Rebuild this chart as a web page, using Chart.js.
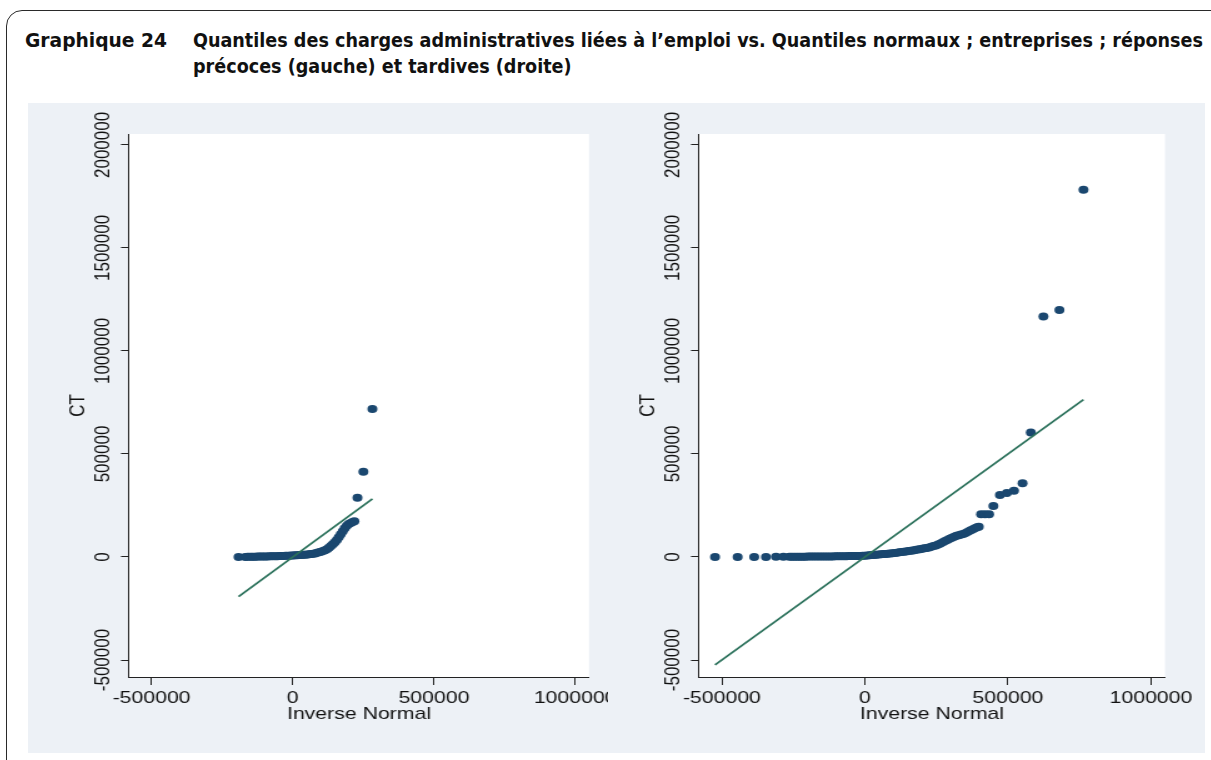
<!DOCTYPE html>
<html>
<head>
<meta charset="utf-8">
<script src="https://cdn.jsdelivr.net/npm/chart.js@4/dist/chart.umd.min.js"></script>
<style>
  html, body { margin: 0; padding: 0; background: #ffffff; width: 1211px; height: 760px; overflow: hidden; }
  #frame { position: absolute; left: 6px; top: 10px; width: 1300px; height: 900px;
           border: 1.5px solid #2a2a2a; border-radius: 16px; }
  .title { position: absolute; font-family: "DejaVu Sans Condensed", "DejaVu Sans", sans-serif;
           font-stretch: condensed; font-weight: bold; font-size: 19px; line-height: 22px;
           color: #111111; white-space: nowrap; transform-origin: 0 50%; }
  #panel { position: absolute; left: 28px; top: 103px; width: 1177px; height: 650px; background: #edf1f6; }
  canvas { position: absolute; transform-origin: 0 0; }
</style>
</head>
<body>
<div id="frame"></div>
<div id="t1" class="title" style="left:25px;top:29px">Graphique 24</div>
<div id="t2" class="title" style="left:193px;top:29px">Quantiles des charges administratives liées à l’emploi vs. Quantiles normaux ; entreprises ; réponses</div>
<div id="t3" class="title" style="left:193px;top:55px">précoces (gauche) et tardives (droite)</div>
<div id="panel"></div>
<canvas id="early" width="464" height="650"></canvas>
<canvas id="late" width="478" height="650"></canvas>
<script>
// Axis ticks shared by both panels
const xTicks = [-500000, 0, 500000, 1000000];
const yTicks = [-500000, 0, 500000, 1000000, 1500000, 2000000];

// Early responses (left): inverse-normal quantile vs. CT
const earlyX = [-192000, -168000, -160000, -152000, -145000, -138000, -131000, -124000, -117000, -110000,
  -103000, -96000, -89000, -82000, -75000, -68000, -61000, -54000, -47000, -40000,
  -33000, -26000, -19000, -12000, -5000, 2000, 9000, 16000, 23000, 30000,
  37000, 44000, 51000, 58000, 65000, 72000, 79000, 86000, 93000, 100000,
  107000, 114000, 121000, 128000, 135000, 142000, 149000, 156000, 163000, 170000,
  177000, 184000, 191000, 198000, 205000, 212000, 218000, 229000, 250000, 282000];
const earlyY = [0, 500, 800, 1000, 1200, 1400, 1600, 1800, 2000, 2200,
  2400, 2600, 2800, 3000, 3200, 3500, 3800, 4100, 4400, 4800,
  5200, 5600, 6000, 6500, 7000, 7500, 8000, 8600, 9200, 9800,
  10500, 11200, 12000, 13000, 14000, 15500, 17500, 20000, 23000, 26000,
  29000, 33000, 38000, 45000, 53000, 62000, 72000, 83000, 96000, 110000,
  125000, 140000, 152000, 160000, 165000, 170000, 174000, 287000, 414000, 718000];
const earlyLine = [-192000, 282000];

// Late responses (right)
const lateX = [-524000, -445000, -387000, -346000, -311000, -285000, -264000,
  -256000, -248000, -240000, -232000, -224000, -216000, -208000, -200000, -192000, -184000,
  -176000, -168000, -160000, -152000, -144000, -136000, -128000, -120000, -112000, -104000,
  -96000, -88000, -80000, -72000, -64000, -56000, -48000, -40000, -32000, -24000,
  -16000, -8000, 0, 8000, 16000, 24000, 32000, 40000, 48000, 56000,
  64000, 72000, 80000, 88000, 96000, 104000, 112000, 120000, 128000, 136000,
  144000, 152000, 160000, 168000, 176000, 184000, 192000, 200000, 208000, 216000,
  224000, 232000, 240000, 248000, 256000, 264000, 272000, 280000, 288000, 296000,
  304000, 312000, 320000, 328000, 336000, 344000, 352000, 360000, 368000, 376000,
  384000, 392000, 398000, 406000, 420000, 434000, 449000, 472000, 496000, 521000,
  551000, 580000, 624000, 680000, 764000];
const lateY = [0, 0, 500, 500, 700, 900, 1000,
  1100, 1200, 1300, 1400, 1500, 1600, 1700, 1800, 1900, 2000,
  2100, 2200, 2300, 2400, 2500, 2600, 2700, 2800, 2900, 3000,
  3200, 3400, 3600, 3800, 4000, 4200, 4400, 4600, 4800, 5000,
  5300, 5800, 6500, 7300, 8200, 9100, 10000, 11000, 12000, 13000,
  14000, 15000, 16000, 17200, 18400, 19600, 21000, 22500, 24000, 25500,
  27000, 28500, 30000, 32000, 34000, 36000, 38000, 40000, 42000, 44000,
  46500, 49500, 53000, 56000, 60000, 66000, 72000, 77000, 83000, 88000,
  93000, 98000, 103000, 106000, 109000, 112000, 116000, 122000, 128000, 134000,
  139000, 144000, 147000, 207000, 208000, 208000, 248000, 301000, 310000, 322000,
  358000, 604000, 1167000, 1199000, 1782000];
const lateLine = [-524000, 764000];

const S = 1.25;                // horizontal stretch of the rendered panels
const MARKER = '#1a476f';
const REFLINE = '#2b715b';
const INK = '#111111';
const FONT = '"Liberation Sans", Arial, sans-serif';

// White plot region, rotated y tick labels and the "CT" axis title
const plotDecor = {
  id: 'plotDecor',
  beforeDraw(chart) {
    const { ctx, chartArea: a } = chart;
    ctx.save();
    ctx.fillStyle = '#ffffff';
    ctx.fillRect(a.left, a.top, a.right - a.left, a.bottom - a.top);
    ctx.restore();
  },
  afterDraw(chart) {
    const { ctx, chartArea: a, scales } = chart;
    const y = scales.y;
    ctx.save();
    ctx.fillStyle = INK;
    ctx.font = '17px ' + FONT;
    ctx.textAlign = 'center';
    ctx.textBaseline = 'middle';
    for (const t of y.ticks) {
      ctx.save();
      ctx.translate(a.left - 25.5 / S, y.getPixelForValue(t.value));
      ctx.rotate(-Math.PI / 2);
      ctx.fillText(String(t.value), 0, 0);
      ctx.restore();
    }
    ctx.translate(a.left - 51 / S, (a.top + a.bottom) / 2);
    ctx.rotate(-Math.PI / 2);
    ctx.fillText('CT', 0, 0);
    ctx.restore();
  }
};

function makePanel(id, xs, ys, line, yAxisWidth, padRight, left) {
  const canvas = document.getElementById(id);
  canvas.style.left = left + 'px';
  canvas.style.top = '103px';
  const points = xs.map((x, i) => ({ x: x, y: ys[i] }));
  const ref = line.map(v => ({ x: v, y: v }));
  const chart = new Chart(canvas, {
    type: 'scatter',
    data: {
      datasets: [
        { type: 'line', data: ref, borderColor: REFLINE, borderWidth: 1.7, pointRadius: 0,
          fill: false, tension: 0, order: 0 },
        { data: points, backgroundColor: MARKER, borderWidth: 0, pointRadius: 4,
          pointHoverRadius: 4, order: 1 }
      ]
    },
    options: {
      responsive: false,
      maintainAspectRatio: false,
      devicePixelRatio: 1,
      animation: false,
      events: [],
      layout: { padding: { left: 0, top: 31, right: padRight, bottom: 0 } },
      plugins: { legend: { display: false }, tooltip: { enabled: false }, title: { display: false } },
      scales: {
        x: {
          type: 'linear', position: 'bottom',
          min: -580000, max: 1049000,
          afterBuildTicks: s => { s.ticks = xTicks.map(v => ({ value: v })); },
          afterFit: s => { s.height = 76; s.paddingLeft = 0; s.paddingRight = 0; },
          ticks: { autoSkip: false, maxRotation: 0, minRotation: 0, padding: 3, color: INK,
                   font: { family: FONT, size: 17 }, callback: v => String(v) },
          grid: { display: true, drawOnChartArea: false, drawTicks: true, tickLength: 8,
                  color: '#222222', lineWidth: 1 },
          border: { display: true, color: '#222222', width: 1 },
          title: { display: true, text: 'Inverse Normal', color: INK,
                   font: { family: FONT, size: 17, lineHeight: 1.2 }, padding: { top: 0, bottom: 28.8 } }
        },
        y: {
          type: 'linear', position: 'left',
          min: -582500, max: 2053000,
          afterBuildTicks: s => { s.ticks = yTicks.map(v => ({ value: v })); },
          afterFit: s => { s.width = yAxisWidth; s.paddingTop = 0; s.paddingBottom = 0; },
          ticks: { color: 'rgba(0,0,0,0)', font: { family: FONT, size: 17 }, callback: v => String(v) },
          grid: { display: true, drawOnChartArea: false, drawTicks: true, tickLength: 8 / S,
                  color: '#222222', lineWidth: 1 },
          border: { display: true, color: '#222222', width: 1 }
        }
      }
    },
    plugins: [plotDecor]
  });
  canvas.style.transform = 'scaleX(' + S + ')';
  return chart;
}

// Left panel: canvas 28..608 px, plot area 129..589 px
makePanel('early', earlyX, earlyY, earlyLine, 101 / S, 464 - 561 / S, 28);
// Right panel: canvas 608..1205 px, plot area 699..1165 px
makePanel('late', lateX, lateY, lateLine, 91 / S, 478 - 557 / S, 608);

// Title lines: each heading line is squeezed to the width of its column
(function fitTitle() {
  const fit = (id, w) => {
    const el = document.getElementById(id);
    return w / el.getBoundingClientRect().width;
  };
  const k1 = fit('t1', 142);
  const k2 = fit('t2', 1010);
  document.getElementById('t1').style.transform = 'scaleX(' + k1 + ')';
  document.getElementById('t2').style.transform = 'scaleX(' + k2 + ')';
  document.getElementById('t3').style.transform = 'scaleX(' + k2 + ')';
})();
</script>
</body>
</html>
